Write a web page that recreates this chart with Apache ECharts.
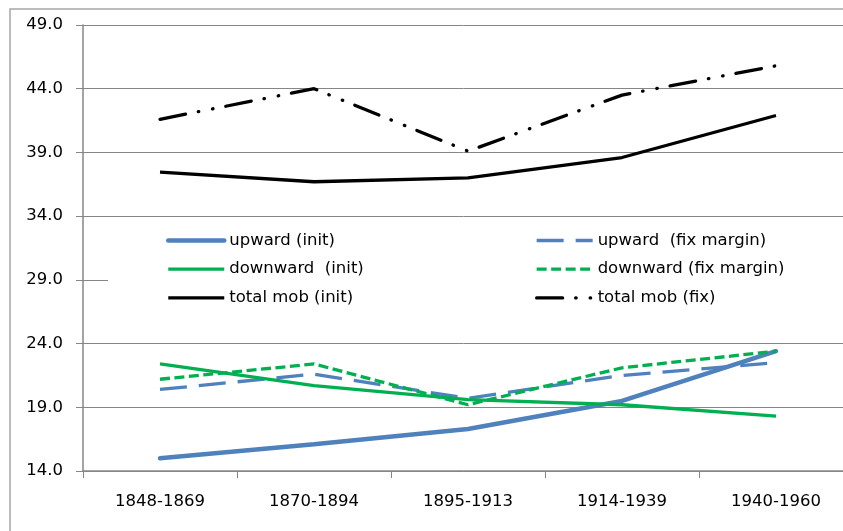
<!DOCTYPE html>
<html>
<head>
<meta charset="utf-8">
<script src="https://cdn.jsdelivr.net/npm/echarts@6/dist/echarts.min.js"></script>
<style>
html,body{margin:0;padding:0;background:#fff;}
#chart{width:843px;height:531px;}
</style>
</head>
<body>
<div id="chart"></div>
<script>
var categories = ['1848-1869', '1870-1894', '1895-1913', '1914-1939', '1940-1960'];
var upwardInit = [15.0, 16.1, 17.3, 19.5, 23.4];
var upwardFix = [20.4, 21.6, 19.7, 21.5, 22.5];
var downwardInit = [22.4, 20.7, 19.6, 19.2, 18.3];
var downwardFix = [21.2, 22.4, 19.2, 22.1, 23.4];
var totalInit = [37.45, 36.7, 37.0, 38.6, 41.9];
var totalFix = [41.6, 44.0, 39.1, 43.5, 45.8];
var yMin = 14, yMax = 49, yStep = 5;

var FONT = 'DejaVu Sans';
var chart = echarts.init(document.getElementById('chart'), null, {renderer: 'canvas'});

var legendCommon = {
  orient: 'vertical',
  padding: 0,
  itemWidth: 56,
  itemHeight: 14,
  itemGap: 11.7,
  itemStyle: {opacity: 0, borderWidth: 0},
  lineStyle: {width: 'inherit', type: 'inherit', cap: 'inherit'},
  textStyle: {fontFamily: FONT, fontSize: 16.5, color: '#000', lineHeight: 16},
  inactiveColor: '#000'
};

chart.setOption({
  animation: false,
  backgroundColor: '#fff',
  graphic: [
    {type: 'rect', z: -10, silent: true, shape: {x: 10, y: 9, width: 900, height: 600},
     style: {fill: 'none', stroke: '#a6a6a6', lineWidth: 1.5}},
    {type: 'rect', z: 1, zlevel: 0, silent: true, shape: {x: 108, y: 226, width: 760, height: 84},
     style: {fill: '#fff'}}
  ],
  grid: {left: 83, width: 770, top: 25, bottom: 60, containLabel: false, outerBoundsMode: 'none'},
  legend: [
    Object.assign({}, legendCommon, {left: 166, top: 232, z: 5,
      data: ['upward (init)', 'downward  (init)', 'total mob (init)']}),
    Object.assign({}, legendCommon, {left: 535, top: 232, z: 5,
      data: ['upward  (fix margin)', 'downward (fix margin)', 'total mob (fix)']})
  ],
  xAxis: {
    type: 'category',
    data: categories,
    boundaryGap: true,
    axisLine: {lineStyle: {color: '#868686', width: 1.5}},
    axisTick: {show: true, alignWithLabel: false, length: 7, lineStyle: {color: '#868686'}},
    axisLabel: {fontFamily: FONT, fontSize: 16.5, color: '#000', margin: 22},
    splitLine: {show: false}
  },
  yAxis: {
    type: 'value',
    min: yMin, max: yMax, interval: yStep,
    axisLine: {show: true, lineStyle: {color: '#868686', width: 1.5}},
    axisTick: {show: true, length: 7, lineStyle: {color: '#868686'}},
    axisLabel: {fontFamily: FONT, fontSize: 16.5, color: '#000', margin: 20,
      formatter: function (v) { return v.toFixed(1); }},
    splitLine: {show: true, lineStyle: {color: '#868686', width: 1}}
  },
  series: [
    {name: 'upward (init)', type: 'line', data: upwardInit, symbol: 'none', z: 3,
     itemStyle: {color: '#4F81BD'}, lineStyle: {color: '#4F81BD', width: 4.5, cap: 'round'}},
    {name: 'upward  (fix margin)', type: 'line', data: upwardFix, symbol: 'none', z: 3,
     itemStyle: {color: '#4F81BD'}, lineStyle: {color: '#4F81BD', width: 3.3, type: [27, 12]}},
    {name: 'downward  (init)', type: 'line', data: downwardInit, symbol: 'none', z: 3,
     itemStyle: {color: '#00B050'}, lineStyle: {color: '#00B050', width: 3.3}},
    {name: 'downward (fix margin)', type: 'line', data: downwardFix, symbol: 'none', z: 3,
     itemStyle: {color: '#00B050'}, lineStyle: {color: '#00B050', width: 3.3, type: [10, 4.5]}},
    {name: 'total mob (init)', type: 'line', data: totalInit, symbol: 'none', z: 3,
     itemStyle: {color: '#000'}, lineStyle: {color: '#000', width: 3.3}},
    {name: 'total mob (fix)', type: 'line', data: totalFix, symbol: 'none', z: 3,
     itemStyle: {color: '#000'}, lineStyle: {color: '#000', width: 3.3, cap: 'round', type: [26, 13, 0.5, 14, 0.5, 13]}}
  ]
});
</script>
</body>
</html>
